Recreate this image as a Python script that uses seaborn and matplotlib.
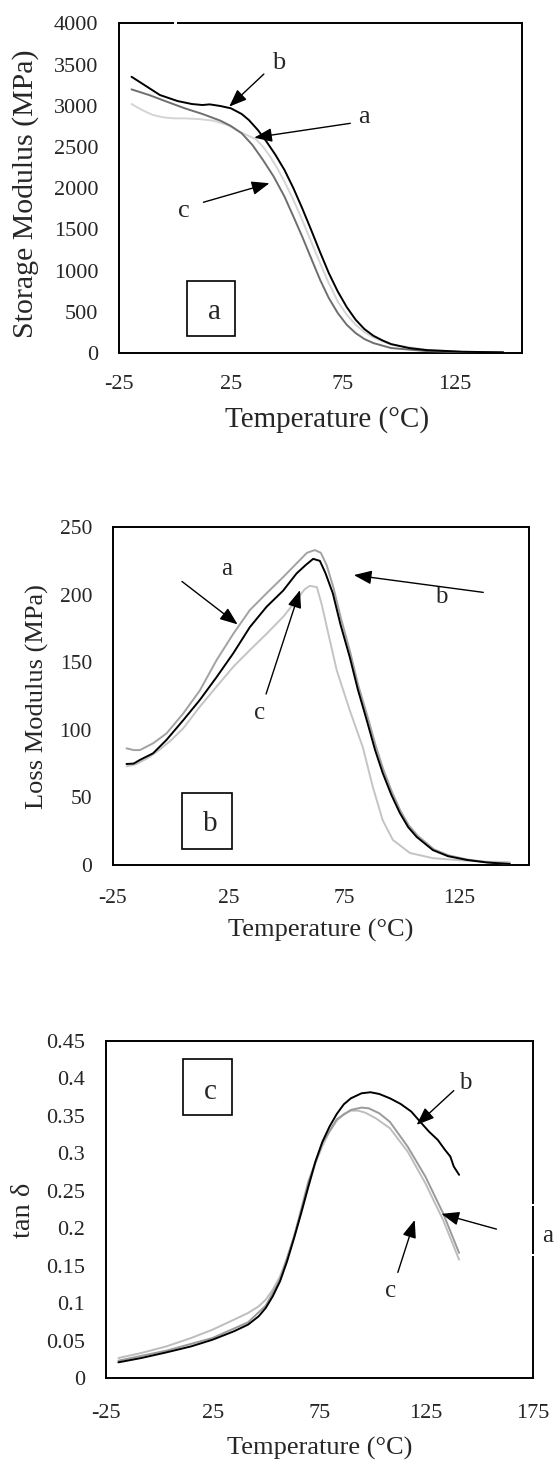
import numpy as np
import pandas as pd
import matplotlib
matplotlib.use("Agg")
import matplotlib.pyplot as plt
from matplotlib.patches import Rectangle
from matplotlib.lines import Line2D
import seaborn as sns

# ---------------- Storage modulus (MPa) ----------------
storage_temp_b = [-19.4, -6.7, 1.2, 7.6, 12.3, 15.5, 20.3, 25.0, 29.8, 33.0, 37.0, 40.9, 44.9,
                  48.9, 52.9, 56.8, 60.8, 64.8, 68.7, 72.7, 76.7, 80.7, 84.6, 88.6, 92.6, 96.5,
                  104.5, 112.4, 128.3, 146.6]
storage_b = [3353, 3131, 3058, 3022, 3010, 3018, 2998, 2970, 2901, 2828, 2707, 2565, 2404,
             2222, 2000, 1758, 1495, 1224, 970, 747, 558, 404, 291, 210, 154, 109,
             61, 36, 16, 8]

storage_temp_c = [-19.4, -11.5, -3.6, 4.4, 12.3, 20.3, 25.0, 29.8, 34.6, 39.3, 44.1, 48.9, 52.9,
                  56.8, 60.8, 64.8, 68.7, 72.7, 76.7, 80.7, 84.6, 88.6, 96.5, 112.4, 128.3, 146.6]
storage_c = [3200, 3131, 3050, 2970, 2901, 2820, 2755, 2667, 2525, 2343, 2141, 1899, 1656,
             1414, 1151, 889, 667, 485, 343, 242, 170, 121, 61, 24, 12, 8]

storage_temp_a = [-19.4, -14.7, -9.9, -5.1, -0.4, 4.4, 10.7, 17.1, 23.5, 28.2, 33.0, 36.2, 39.3,
                  42.5, 45.7, 48.9, 52.9, 56.8, 60.8, 64.8, 68.7, 72.7, 76.7, 80.7, 84.6, 88.6,
                  96.5, 112.4, 128.3, 146.6]
storage_a = [3022, 2949, 2889, 2860, 2848, 2848, 2840, 2820, 2768, 2695, 2634, 2594, 2505,
             2384, 2242, 2081, 1858, 1616, 1354, 1091, 848, 626, 465, 343, 255, 190,
             101, 40, 16, 8]

# ---------------- Loss modulus (MPa) ----------------
loss_temp_b = [-19.1, -16.0, -13.3, -7.6, -1.8, 5.4, 12.6, 19.9, 27.1, 34.3, 41.5, 48.7, 54.5,
               58.5, 61.7, 64.6, 67.0, 70.2, 73.5, 77.5, 81.0, 84.9, 88.5, 91.8, 95.5, 99.2,
               102.8, 106.5, 113.5, 120.0, 128.2, 137.0, 146.8]
loss_b = [74.7, 75.0, 77.7, 82.6, 92.5, 107, 122, 139, 156.6, 176, 191, 203, 215.7,
          222, 226.5, 225, 216, 201, 178, 154, 130, 107, 85, 68, 52, 38.5,
          28, 20.7, 11, 6.5, 3.7, 1.8, 0.7]

loss_temp_a = [-19.1, -16.0, -13.3, -7.6, -1.8, 5.4, 12.6, 19.9, 27.1, 34.3, 41.5, 48.7, 55.0,
               59.0, 62.4, 65.0, 67.5, 70.5, 73.8, 77.8, 81.2, 85.2, 88.8, 92.0, 95.8, 99.5,
               103.0, 107.0, 114.0, 120.5, 128.5, 137.0, 146.8]
loss_a = [86.3, 85, 85, 90, 97.3, 112, 129, 151.6, 171, 188.6, 201, 213, 224,
          231, 233, 231, 222, 205, 182, 157, 133, 110, 88, 71, 54, 40,
          29.5, 21.5, 11.5, 7, 4, 2, 0.8]

loss_temp_c = [-19.0, -15.0, -10.0, -5.0, 0.0, 5.4, 12.6, 19.9, 27.1, 34.3, 41.5, 48.7, 54.5,
               58.0, 60.2, 63.3, 65.5, 67.6, 71.9, 77.5, 80.5, 83.2, 87.5, 91.8, 96.2, 103.5,
               113.5, 125.0, 135.0, 146.8]
loss_c = [73, 74.5, 79, 85, 92, 101, 117, 132, 146.6, 159, 171, 183.6, 196,
          204, 206.5, 205.6, 192, 176, 144, 114.6, 100, 87, 57.7, 33, 18.5, 8.9,
          5, 3.5, 2.5, 2]

# ---------------- tan delta ----------------
tan_temp_b = [-19.2, -8.4, 3.3, 14.9, 24.9, 34.9, 41.5, 46.5, 49.8, 53.1, 56.5, 59.8, 63.1,
              66.4, 69.8, 73.1, 76.4, 79.7, 83.1, 86.4, 89.7, 94.7, 98.9, 103.0, 108.0, 113.0,
              118.0, 122.1, 126.3, 130.4, 133.8, 136.3, 137.9, 140.4]
tan_b = [0.0209, 0.0267, 0.0342, 0.0422, 0.0511, 0.0623, 0.0712, 0.0823, 0.0934, 0.109,
         0.129, 0.1556, 0.1868, 0.220, 0.2557, 0.289, 0.3157, 0.3357, 0.3526, 0.3655,
         0.3735, 0.3802, 0.3816, 0.3793, 0.3735, 0.366, 0.3558, 0.3424, 0.329, 0.318,
         0.3046, 0.2957, 0.2824, 0.2713]

tan_temp_a = [-19.2, 3.3, 24.9, 41.5, 49.8, 56.5, 63.1, 69.8, 76.4, 83.1, 89.7, 94.7, 98.0,
              103.0, 108.0, 116.3, 124.6, 132.9, 140.4]
tan_a = [0.0231, 0.0365, 0.0534, 0.0743, 0.0965, 0.131, 0.189, 0.2624, 0.3144, 0.3455,
         0.358, 0.3611, 0.3602, 0.3535, 0.342, 0.309, 0.269, 0.220, 0.167]

tan_temp_c = [-19.2, -8.4, 3.3, 14.9, 24.9, 34.9, 41.5, 46.5, 49.8, 53.1, 56.5, 59.8, 63.1,
              66.4, 69.8, 73.1, 76.4, 79.7, 83.1, 86.4, 89.7, 93.1, 96.4, 101.4, 108.0, 116.3,
              124.6, 132.9, 140.4]
tan_c = [0.0267, 0.0334, 0.0422, 0.0534, 0.0645, 0.0778, 0.0867, 0.0956, 0.1045, 0.1178,
         0.1356, 0.160, 0.189, 0.220, 0.2557, 0.2868, 0.31, 0.329, 0.3437, 0.3526, 0.357,
         0.357, 0.3544, 0.3468, 0.3335, 0.3024, 0.260, 0.211, 0.158]

x_ticks_short = [-25, 25, 75, 125]
x_ticks_long = [-25, 25, 75, 125, 175]
storage_ticks = [0, 500, 1000, 1500, 2000, 2500, 3000, 3500, 4000]
loss_ticks = [0, 50, 100, 150, 200, 250]
tan_ticks = [0, 0.05, 0.1, 0.15, 0.2, 0.25, 0.3, 0.35, 0.4, 0.45]
tan_tick_labels = ["0", "0.05", "0.1", "0.15", "0.2", "0.25", "0.3", "0.35", "0.4", "0.45"]

sns.set_theme(style="white")
plt.rcParams["font.family"] = ["Liberation Serif", "DejaVu Serif"]

fig = plt.figure(figsize=(5.56, 14.65), dpi=100)
ax1 = fig.add_axes([0.214, 0.759, 0.725, 0.225])
ax2 = fig.add_axes([0.203, 0.4096, 0.748, 0.2306])
ax3 = fig.add_axes([0.1906, 0.0594, 0.768, 0.230])


def draw(ax, temps, vals, color, z):
    df = pd.DataFrame({"T": temps, "v": vals})
    sns.lineplot(data=df, x="T", y="v", ax=ax, color=color, lw=1.4,
                 sort=False, estimator=None, zorder=z)


def style(ax, xlim, ylim, yticks, xticks, ytick_labels, tick_fs, xpad):
    ax.set_xlim(*xlim)
    ax.set_ylim(*ylim)
    ax.set_xticks(xticks)
    ax.set_xticklabels([str(t) for t in xticks], fontsize=tick_fs)
    ax.set_yticks(yticks)
    ax.set_yticklabels(ytick_labels, fontsize=tick_fs)
    ax.tick_params(axis="both", length=0)
    ax.tick_params(axis="y", pad=15)
    ax.tick_params(axis="x", pad=xpad)
    for s in ax.spines.values():
        s.set_visible(True)
        s.set_color("black")
        s.set_linewidth(1.4)


def arrow(ax, tail, head):
    ax.annotate("", xy=head, xytext=tail,
                arrowprops=dict(arrowstyle="-|>,head_length=0.9,head_width=0.35",
                                color="black", lw=1.0, shrinkA=0, shrinkB=0,
                                mutation_scale=12))


def boxed(ax, x0, y0, x1, y1, tx, ty, letter, fs):
    ax.add_patch(Rectangle((x0, y0), x1 - x0, y1 - y0, transform=ax.transAxes,
                           fill=True, facecolor="white", edgecolor="black", lw=1.2, zorder=5))
    ax.text(tx, ty, letter, transform=ax.transAxes, ha="center", va="center",
            fontsize=fs, zorder=6)


def spine_gap(ax, p0, p1, vertical):
    # small white breaks in the frame left by the text boxes
    if vertical:
        xs, ys = [1, 1], [p0, p1]
    else:
        xs, ys = [p0, p1], [1, 1]
    ax.add_line(Line2D(xs, ys, transform=ax.transAxes, color="white", lw=2.6,
                       clip_on=False, zorder=10, solid_capstyle="butt"))


# ---- panel a: storage modulus ----
draw(ax1, storage_temp_a, storage_a, "#d4d4d4", 2)
draw(ax1, storage_temp_c, storage_c, "#6e6e6e", 3)
draw(ax1, storage_temp_b, storage_b, "#000000", 4)
style(ax1, (-25, 155), (0, 4000), storage_ticks, x_ticks_short,
      [str(v) for v in storage_ticks], 16, 16)
ax1.set_xlabel("Temperature (°C)", fontsize=21)
ax1.set_ylabel("Storage Modulus (MPa)", fontsize=21.5)
ax1.xaxis.label.set_va("center")
ax1.yaxis.label.set_va("center")
ax1.xaxis.set_label_coords(0.517, -0.203)
ax1.yaxis.set_label_coords(-0.233, 0.485)
ax1.text(46.5, 3515, "b", fontsize=19, ha="center", va="center")
arrow(ax1, (39.7, 3386), (24.2, 2990))
ax1.text(84.6, 2861, "a", fontsize=19, ha="center", va="center")
arrow(ax1, (78.3, 2788), (35.4, 2614))
ax1.text(3.9, 1729, "c", fontsize=19, ha="center", va="center")
arrow(ax1, (12.7, 1830), (42.2, 2061))
boxed(ax1, 0.168, 0.053, 0.289, 0.219, 0.237, 0.126, "a", 21)
spine_gap(ax1, 0.137, 0.143, vertical=False)

# ---- panel b: loss modulus ----
draw(ax2, loss_temp_c, loss_c, "#c4c4c4", 2)
draw(ax2, loss_temp_a, loss_a, "#a2a2a2", 3)
draw(ax2, loss_temp_b, loss_b, "#000000", 4)
style(ax2, (-25, 155), (0, 250), loss_ticks, x_ticks_short,
      [str(v) for v in loss_ticks], 15.5, 17.5)
ax2.set_xlabel("Temperature (°C)", fontsize=19)
ax2.set_ylabel("Loss Modulus (MPa)", fontsize=19)
ax2.xaxis.label.set_va("center")
ax2.yaxis.label.set_va("center")
ax2.xaxis.set_label_coords(0.50, -0.195)
ax2.yaxis.set_label_coords(-0.182, 0.497)
ax2.text(24.1, 218.9, "a", fontsize=18, ha="center", va="center")
arrow(ax2, (4.9, 209.8), (29.0, 178))
ax2.text(117, 198.5, "b", fontsize=18, ha="center", va="center")
arrow(ax2, (135.3, 201.7), (79.3, 214.5))
ax2.text(38.7, 112.7, "c", fontsize=18, ha="center", va="center")
arrow(ax2, (41.3, 126.5), (56.0, 203.4))
boxed(ax2, 0.166, 0.047, 0.286, 0.214, 0.234, 0.12, "b", 21)

# ---- panel c: tan delta ----
draw(ax3, tan_temp_c, tan_c, "#bdbdbd", 2)
draw(ax3, tan_temp_a, tan_a, "#9a9a9a", 3)
draw(ax3, tan_temp_b, tan_b, "#000000", 4)
style(ax3, (-25, 175), (0, 0.45), tan_ticks, x_ticks_long, tan_tick_labels, 16, 19)
ax3.set_xlabel("Temperature (°C)", fontsize=19)
ax3.set_ylabel("tan δ", fontsize=20.5)
ax3.xaxis.label.set_va("center")
ax3.yaxis.label.set_va("center")
ax3.xaxis.set_label_coords(0.50, -0.208)
ax3.yaxis.set_label_coords(-0.192, 0.498)
ax3.text(143.4, 0.394, "b", fontsize=18, ha="center", va="center")
arrow(ax3, (137.9, 0.3838), (120.5, 0.338))
ax3.text(182, 0.19, "a", fontsize=18, ha="center", va="center", clip_on=False)
arrow(ax3, (157.9, 0.1988), (132.1, 0.2192))
ax3.text(108.3, 0.1156, "c", fontsize=18, ha="center", va="center")
arrow(ax3, (111.7, 0.141), (119.6, 0.211))
boxed(ax3, 0.18, 0.779, 0.295, 0.946, 0.245, 0.85, "c", 21)
spine_gap(ax3, 0.509, 0.517, vertical=True)
spine_gap(ax3, 0.361, 0.369, vertical=True)

fig.savefig("out.png", dpi=100, facecolor="white")
